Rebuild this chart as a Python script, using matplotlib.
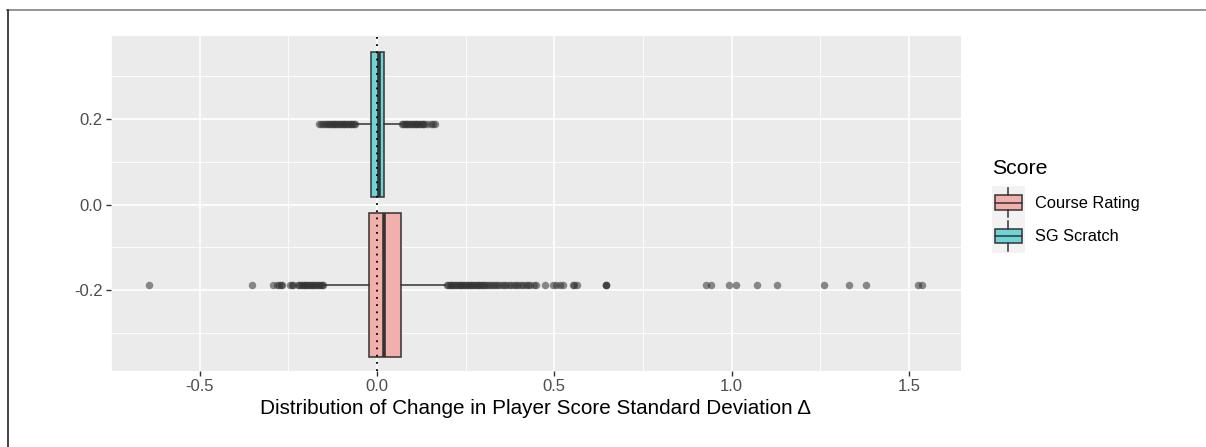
import numpy as np
import matplotlib
matplotlib.use('Agg')
import matplotlib.pyplot as plt
from matplotlib.patches import Rectangle
from matplotlib.lines import Line2D
from matplotlib.legend_handler import HandlerBase

plt.rcParams['font.family'] = ['Liberation Sans', 'DejaVu Sans']

# box summary values
groups = ['Course Rating', 'SG Scratch']
y_pos = [-0.1875, 0.1875]
q1 = [-0.022, -0.016]
med = [0.020, 0.006]
q3 = [0.069, 0.021]
whis_lo = [-0.148, -0.060]
whis_hi = [0.193, 0.067]

# outliers
cr_out = [-0.643, -0.353, -0.293, -0.282, -0.277, -0.272, -0.268, -0.245, -0.240, -0.237,
          -0.223, -0.219, -0.215, -0.211, -0.207, -0.203, -0.199, -0.195, -0.191, -0.187,
          -0.183, -0.179, -0.175, -0.171, -0.167, -0.163, -0.159, -0.155, -0.151,
          0.197, 0.201, 0.205, 0.209, 0.213, 0.217, 0.221, 0.225, 0.229, 0.233, 0.237,
          0.241, 0.245, 0.249, 0.253, 0.257, 0.261, 0.265, 0.269, 0.273, 0.277, 0.281,
          0.285, 0.289, 0.293, 0.297, 0.301, 0.305, 0.309, 0.315, 0.321, 0.326, 0.333,
          0.338, 0.344, 0.352, 0.358, 0.365, 0.371, 0.378, 0.386, 0.392, 0.398, 0.405,
          0.412, 0.419, 0.425, 0.431, 0.442, 0.449, 0.474, 0.497, 0.505, 0.516, 0.525,
          0.553, 0.556, 0.564, 0.645, 0.645, 0.645, 0.928, 0.942, 0.993, 1.013, 1.072,
          1.128, 1.261, 1.331, 1.379, 1.526, 1.537]
sg_out = [-0.164, -0.158, -0.152, -0.146, -0.141, -0.137, -0.133, -0.129, -0.125, -0.121,
          -0.117, -0.113, -0.109, -0.105, -0.101, -0.097, -0.093, -0.089, -0.085, -0.081,
          -0.077, -0.073, -0.069, -0.065, -0.062,
          0.070, 0.074, 0.078, 0.082, 0.086, 0.090, 0.094, 0.098, 0.102, 0.106, 0.110,
          0.114, 0.118, 0.122, 0.126, 0.130, 0.134, 0.140, 0.152, 0.158, 0.164]
outliers = [cr_out, sg_out]

fills = ['#F2B0AC', '#6ED4D6']

x_ticks = [-0.5, 0.0, 0.5, 1.0, 1.5]
y_ticks = [-0.2, 0.0, 0.2]


class BoxKey(HandlerBase):
    def create_artists(self, legend, orig_handle, xdescent, ydescent, width, height, fontsize, trans):
        x0, y0 = -xdescent, -ydescent
        bg = Rectangle((x0, y0), width, height, fc='#F2F2F2', ec='none', transform=trans)
        box = Rectangle((x0 + width * 0.1, y0 + height * 0.28), width * 0.8, height * 0.44,
                        fc=orig_handle.get_facecolor(), ec='#333333', lw=1.1, transform=trans)
        mid = Line2D([x0 + width * 0.1, x0 + width * 0.9], [y0 + height / 2] * 2, color='#333333', lw=1.1, transform=trans)
        w1 = Line2D([x0 + width / 2] * 2, [y0 + height * 0.06, y0 + height * 0.28], color='#333333', lw=1.1, transform=trans)
        w2 = Line2D([x0 + width / 2] * 2, [y0 + height * 0.72, y0 + height * 0.94], color='#333333', lw=1.1, transform=trans)
        return [bg, box, mid, w1, w2]


fig = plt.figure(figsize=(12.06, 4.47), dpi=100)
ax = fig.add_axes([111 / 1206, 76 / 447, 850 / 1206, 335 / 447])
ax.set_facecolor('#EBEBEB')

stats = []
for i in range(2):
    stats.append(dict(label=groups[i], med=med[i], q1=q1[i], q3=q3[i],
                      whislo=whis_lo[i], whishi=whis_hi[i], fliers=outliers[i]))

bp = ax.bxp(stats, positions=y_pos, widths=0.3375, orientation='horizontal',
            patch_artist=True, manage_ticks=False,
            boxprops=dict(edgecolor='#333333', lw=1.1),
            medianprops=dict(color='#333333', lw=2.6),
            whiskerprops=dict(color='#333333', lw=1.1),
            capprops=dict(visible=False),
            flierprops=dict(marker='o', markersize=5.4, markerfacecolor='#333333',
                            markeredgecolor='none', alpha=0.55))
for patch, c in zip(bp['boxes'], fills):
    patch.set_facecolor(c)

ax.axvline(0, color='black', ls=(0, (1, 3)), lw=1.3, zorder=5)

ax.set_xlim(-0.750, 1.647)
ax.set_ylim(-0.389, 0.394)
ax.set_xticks(x_ticks)
ax.set_xticklabels(['-0.5', '0.0', '0.5', '1.0', '1.5'])
ax.set_yticks(y_ticks)
ax.set_yticklabels(['-0.2', '0.0', '0.2'])
ax.set_xticks([-0.75, -0.25, 0.25, 0.75, 1.25], minor=True)
ax.set_yticks([-0.3, -0.1, 0.1, 0.3], minor=True)
ax.grid(True, which='major', color='white', lw=1.2)
ax.grid(True, which='minor', color='white', lw=0.6)
ax.set_axisbelow(True)
for s in ax.spines.values():
    s.set_visible(False)
ax.tick_params(which='major', length=3.5, width=1, color='#333333', labelcolor='#4D4D4D',
               labelsize=12, pad=2.5)
ax.tick_params(which='minor', length=0)

ax.set_xlabel('Distribution of Change in Player Score Standard Deviation \u0394', fontsize=14.9, color='black', labelpad=3)

# legend
fig.text(992 / 1206, 1 - 168 / 447, 'Score', fontsize=15.3, ha='left', va='center')
handles = [Rectangle((0, 0), 1, 1, fc=c) for c in fills]
leg = fig.legend(handles, groups, handler_map={Rectangle: BoxKey()},
                 loc='upper left', bbox_to_anchor=(992 / 1206, 1 - 186 / 447),
                 frameon=False, fontsize=11.8,
                 handlelength=2.0, handleheight=2.75, labelspacing=0, handletextpad=0.6,
                 borderpad=0, borderaxespad=0)

# screenshot frame
fig.add_artist(Line2D([7 / 1206, 1], [1 - 9.5 / 447] * 2, color='#8C8C8C', lw=1.3, transform=fig.transFigure))
fig.add_artist(Line2D([7.5 / 1206] * 2, [0, 1 - 9.5 / 447], color='#333333', lw=1.3, transform=fig.transFigure))

fig.savefig('out.png', dpi=100)
